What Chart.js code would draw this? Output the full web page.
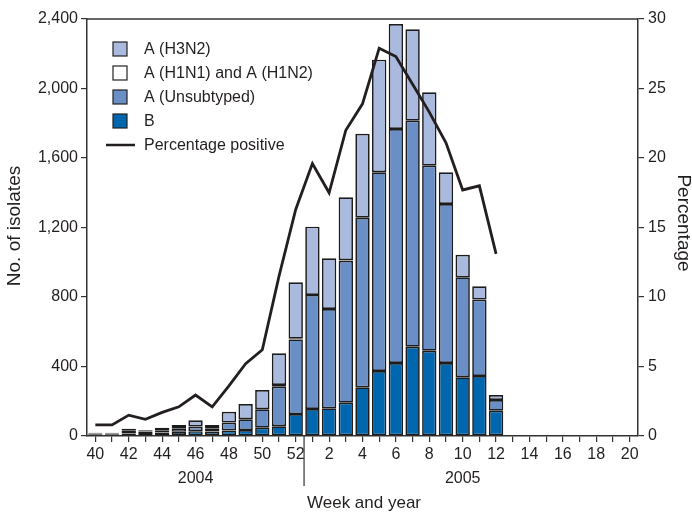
<!DOCTYPE html>
<html>
<head>
<meta charset="utf-8">
<script src="https://cdn.jsdelivr.net/npm/chart.js@4/dist/chart.umd.min.js"></script>
<style>
  html, body { margin: 0; padding: 0; background: #fff; }
  #wrap { width: 692px; height: 512px; }
</style>
</head>
<body>
<div id="wrap"><canvas id="fluChart" width="692" height="512"></canvas></div>
<script>
// Influenza isolates by week, 2004-2005 season
const weeks = ['40','41','42','43','44','45','46','47','48','49','50','51','52',
               '1','2','3','4','5','6','7','8','9','10','11','12',
               '13','14','15','16','17','18','19','20'];

const typeB =       [10, 10, 14, 12, 20, 24, 28, 26, 32, 34, 48, 56, 126,
                     155, 159, 192, 280, 374, 420, 514, 491, 420, 338, 345, 146,
                     0, 0, 0, 0, 0, 0, 0, 0];
const unsubtyped =  [5, 5, 16, 14, 13, 20, 26, 18, 45, 62, 106, 228, 430,
                     657, 572, 817, 976, 1144, 1347, 1301, 1065, 915, 575, 440, 61,
                     0, 0, 0, 0, 0, 0, 0, 0];
const h1n1h1n2 =    [0, 0, 0, 0, 0, 0, 0, 0, 0, 0, 0, 10, 4,
                     0, 0, 3, 0, 0, 0, 0, 0, 0, 0, 0, 0,
                     0, 0, 0, 0, 0, 0, 0, 0];
const h3n2 =        [4, 4, 12, 7, 15, 19, 36, 19, 63, 88, 111, 182, 325,
                     393, 292, 362, 484, 648, 604, 526, 422, 183, 130, 77, 29,
                     0, 0, 0, 0, 0, 0, 0, 0];
const pctPositive = [0.8, 0.8, 1.5, 1.2, 1.7, 2.1, 2.95, 2.1, 3.6, 5.2, 6.2, 11.5, 16.3,
                     19.6, 17.5, 22.0, 23.9, 27.9, 27.3, 25.3, 23.3, 21.1, 17.7, 18.0, 13.1,
                     null, null, null, null, null, null, null, null];

const leftTicks = [0, 400, 800, 1200, 1600, 2000, 2400];
const rightTicks = [0, 5, 10, 15, 20, 25, 30];

const ink = '#231f20';
const fontFamily = '"Liberation Sans", Arial, Helvetica, sans-serif';
const colors = {
    h3n2: '#aab9de',
    h1: '#ffffff',
    unsub: '#6a8ec6',
    b: '#0066ad'
};

// extra drawing: top frame line, year divider, year labels, titles, legend
const decorations = {
    id: 'decorations',
    afterDraw(chart) {
        const c = chart.ctx;
        const area = chart.chartArea;
        const x = chart.scales.x;
        c.save();
        c.strokeStyle = '#333';
        c.lineWidth = 1.5;
        c.beginPath();
        c.moveTo(area.left, area.top);
        c.lineTo(area.right, area.top);
        c.stroke();

        // year divider between week 52 and week 1
        const divX = (x.getPixelForValue(12) + x.getPixelForValue(13)) / 2;
        c.lineWidth = 1.2;
        c.beginPath();
        c.moveTo(divX, area.bottom);
        c.lineTo(divX, 486);
        c.stroke();

        c.fillStyle = ink;
        c.textAlign = 'center';
        c.textBaseline = 'middle';
        c.font = '16px ' + fontFamily;
        c.fillText('2004', x.getPixelForValue(6), 479);
        c.fillText('2005', x.getPixelForValue(22), 479);
        c.font = '17px ' + fontFamily;
        c.fillText('Week and year', 364, 503);

        c.font = '19px ' + fontFamily;
        c.save();
        c.translate(15, 226);
        c.rotate(-Math.PI / 2);
        c.fillText('No. of isolates', 0, 0);
        c.restore();
        c.save();
        c.translate(683, 223);
        c.rotate(Math.PI / 2);
        c.fillText('Percentage', 0, 0);
        c.restore();

        // legend
        const items = [
            ['A (H3N2)', colors.h3n2],
            ['A (H1N1) and A (H1N2)', colors.h1],
            ['A (Unsubtyped)', colors.unsub],
            ['B', colors.b]
        ];
        c.textAlign = 'left';
        c.font = '16px ' + fontFamily;
        items.forEach((it, i) => {
            const cy = 49 + i * 24;
            c.fillStyle = it[1];
            c.fillRect(113, cy - 7, 14, 14);
            c.strokeStyle = '#222';
            c.lineWidth = 1.2;
            c.strokeRect(113, cy - 7, 14, 14);
            c.fillStyle = ink;
            c.fillText(it[0], 144, cy + 1);
        });
        c.strokeStyle = ink;
        c.lineWidth = 2.5;
        c.beginPath();
        c.moveTo(106, 145);
        c.lineTo(135, 145);
        c.stroke();
        c.fillText('Percentage positive', 144, 146);
        c.restore();
    }
};

function barSet(label, data, color) {
    return {
        type: 'bar',
        label: label,
        data: data,
        backgroundColor: color,
        borderColor: '#1c1c1c',
        borderWidth: 1.7,
        borderSkipped: false,
        barPercentage: 0.86,
        categoryPercentage: 1.0,
        yAxisID: 'y',
        order: 2
    };
}

const ctx = document.getElementById('fluChart').getContext('2d');
const chart = new Chart(ctx, {
    data: {
        labels: weeks,
        datasets: [
            barSet('B', typeB, colors.b),
            barSet('A (Unsubtyped)', unsubtyped, colors.unsub),
            barSet('A (H1N1) and A (H1N2)', h1n1h1n2, colors.h1),
            barSet('A (H3N2)', h3n2, colors.h3n2),
            {
                type: 'line',
                label: 'Percentage positive',
                data: pctPositive,
                borderColor: ink,
                borderWidth: 2.8,
                pointRadius: 0,
                tension: 0,
                fill: false,
                spanGaps: false,
                yAxisID: 'y1',
                order: 1
            }
        ]
    },
    options: {
        responsive: false,
        animation: false,
        devicePixelRatio: 1,
        layout: { padding: { top: 19, left: 0, right: 0, bottom: 0 } },
        plugins: {
            legend: { display: false },
            tooltip: { enabled: false }
        },
        scales: {
            x: {
                stacked: true,
                grid: {
                    offset: false,
                    drawOnChartArea: false,
                    drawTicks: true,
                    tickLength: 6,
                    color: '#333',
                    lineWidth: 1.2
                },
                border: { color: '#333', width: 1.5 },
                ticks: {
                    autoSkip: false,
                    maxRotation: 0,
                    padding: 3,
                    color: ink,
                    font: { family: fontFamily, size: 16 },
                    callback: function(val, i) {
                        const w = parseInt(weeks[i], 10);
                        return w % 2 === 0 ? weeks[i] : '';
                    }
                },
                afterFit: function(scale) { scale.height = 76; }
            },
            y: {
                stacked: true,
                position: 'left',
                min: 0,
                max: 2400,
                afterBuildTicks: function(scale) {
                    scale.ticks = leftTicks.map(v => ({ value: v }));
                },
                grid: {
                    drawOnChartArea: false,
                    drawTicks: true,
                    tickLength: 6,
                    color: '#333',
                    lineWidth: 1.2
                },
                border: { color: '#333', width: 1.5 },
                ticks: {
                    padding: 3,
                    color: ink,
                    font: { family: fontFamily, size: 16 },
                    callback: v => v.toLocaleString('en-US')
                },
                afterFit: function(scale) { scale.width = 87; }
            },
            y1: {
                position: 'right',
                min: 0,
                max: 30,
                afterBuildTicks: function(scale) {
                    scale.ticks = rightTicks.map(v => ({ value: v }));
                },
                grid: {
                    drawOnChartArea: false,
                    drawTicks: true,
                    tickLength: 6,
                    color: '#333',
                    lineWidth: 1.2
                },
                border: { color: '#333', width: 1.5 },
                ticks: {
                    padding: 4,
                    color: ink,
                    font: { family: fontFamily, size: 16 }
                },
                afterFit: function(scale) { scale.width = 54; }
            }
        }
    },
    plugins: [decorations]
});
</script>
</body>
</html>
